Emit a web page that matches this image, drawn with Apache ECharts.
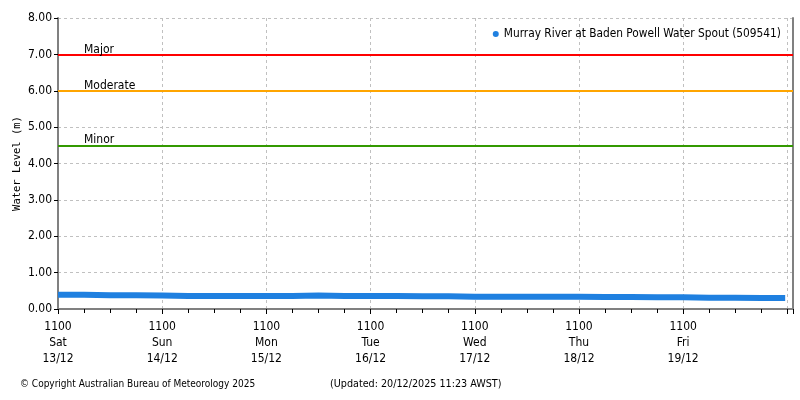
<!DOCTYPE html>
<html><head><meta charset="utf-8">
<script src="https://cdn.jsdelivr.net/npm/echarts@6/dist/echarts.min.js"></script>
<style>html,body{margin:0;padding:0;background:#fff}#c{width:800px;height:400px}</style>
</head><body><div id="c"></div>
<script>
// hours since Sat 13/12 11:00
var hours = [0,6,12,18,24,30,36,42,48,54,60,66,72,78,84,90,96,102,108,114,120,126,132,138,144,150,156,162,167.5];
var levels = [0.39,0.39,0.38,0.38,0.37,0.36,0.36,0.36,0.36,0.36,0.37,0.36,0.36,0.36,0.35,0.35,0.34,0.34,0.34,0.34,0.34,0.33,0.33,0.32,0.32,0.31,0.31,0.30,0.30];
var dayLabels = ['1100\nSat\n13/12','1100\nSun\n14/12','1100\nMon\n15/12','1100\nTue\n16/12','1100\nWed\n17/12','1100\nThu\n18/12','1100\nFri\n19/12'];
var thresholdNames = ['Major','Moderate','Minor'];
var thresholdValues = [7.0, 6.0, 4.5];
var thresholdColors = ['#ff0000','#ffa500','#339900'];
var seriesName = 'Murray River at Baden Powell Water Spout (509541)';
var copyright = '\u00a9 Copyright Australian Bureau of Meteorology 2025';
var updated = '(Updated: 20/12/2025 11:23 AWST)';

var font = 'DejaVu Sans Condensed';
var chart = echarts.init(document.getElementById('c'));
var pts = hours.map(function(h,i){return [h, levels[i]];});
chart.setOption({
  animation:false,
  textStyle:{fontFamily:font},
  title:[
    {text:copyright,left:15,top:374,textStyle:{fontFamily:font,fontSize:10,fontWeight:'normal',color:'#000'}},
    {text:updated,left:325,top:374,textStyle:{fontFamily:font,fontSize:10.7,fontWeight:'normal',color:'#000'}}
  ],
  legend:{right:14,top:23,icon:'circle',itemWidth:6,itemHeight:6,itemGap:7,
    textStyle:{fontFamily:font,fontSize:11.8,color:'#000'},data:[seriesName]},
  grid:{left:58,right:7,top:18,bottom:91,containLabel:false,outerBoundsMode:'none'},
  xAxis:{type:'value',min:0,max:169.3,interval:24,
    axisLine:{lineStyle:{color:'#808080',width:2}},
    axisTick:{show:true,length:5,lineStyle:{color:'#000'}},
    minorTick:{show:true,splitNumber:4,length:4,lineStyle:{color:'#000'}},
    splitLine:{show:true,lineStyle:{color:'#c0c0c0',type:[3,3]}},
    axisLabel:{color:'#000',fontSize:12,lineHeight:16,margin:10,fontFamily:font,
      showMaxLabel:false,
      formatter:function(v){var i=Math.round(v/24); return (Math.abs(v-i*24)<0.01 && i<dayLabels.length)?dayLabels[i]:'';}}
  },
  yAxis:[{type:'value',min:0,max:8,interval:1,
    name:'Water Level (m)',nameLocation:'middle',nameGap:35,nameMoveOverlap:false,
    nameTextStyle:{fontFamily:'DejaVu Sans Mono',fontSize:10.5,color:'#000'},
    axisLine:{show:true,lineStyle:{color:'#808080',width:2}},
    axisTick:{show:true,length:4,lineStyle:{color:'#000'}},
    splitLine:{show:true,lineStyle:{color:'#c0c0c0',type:[3,3]}},
    axisLabel:{color:'#000',fontSize:12,margin:6,fontFamily:font,formatter:function(v){return v.toFixed(2);}}
  },{type:'value',position:'right',min:0,max:8,interval:1,
    axisLine:{show:true,lineStyle:{color:'#808080',width:2}},
    axisTick:{show:false},axisLabel:{show:false},splitLine:{show:false}}],
  series:[{
    name:seriesName,type:'line',data:pts,showSymbol:false,symbol:'circle',
    itemStyle:{color:'#1f80e0'},
    lineStyle:{color:'#1f80e0',width:6},
    markLine:{silent:true,symbol:'none',
      data:thresholdValues.map(function(v,i){return {name:thresholdNames[i],yAxis:v,
        lineStyle:{color:thresholdColors[i],width:2,type:'solid'},
        label:{show:true,formatter:thresholdNames[i],position:'insideStartTop',distance:[26,-1],
          color:'#000',fontSize:12,fontFamily:font}};})
    }
  }]
});
</script></body></html>
